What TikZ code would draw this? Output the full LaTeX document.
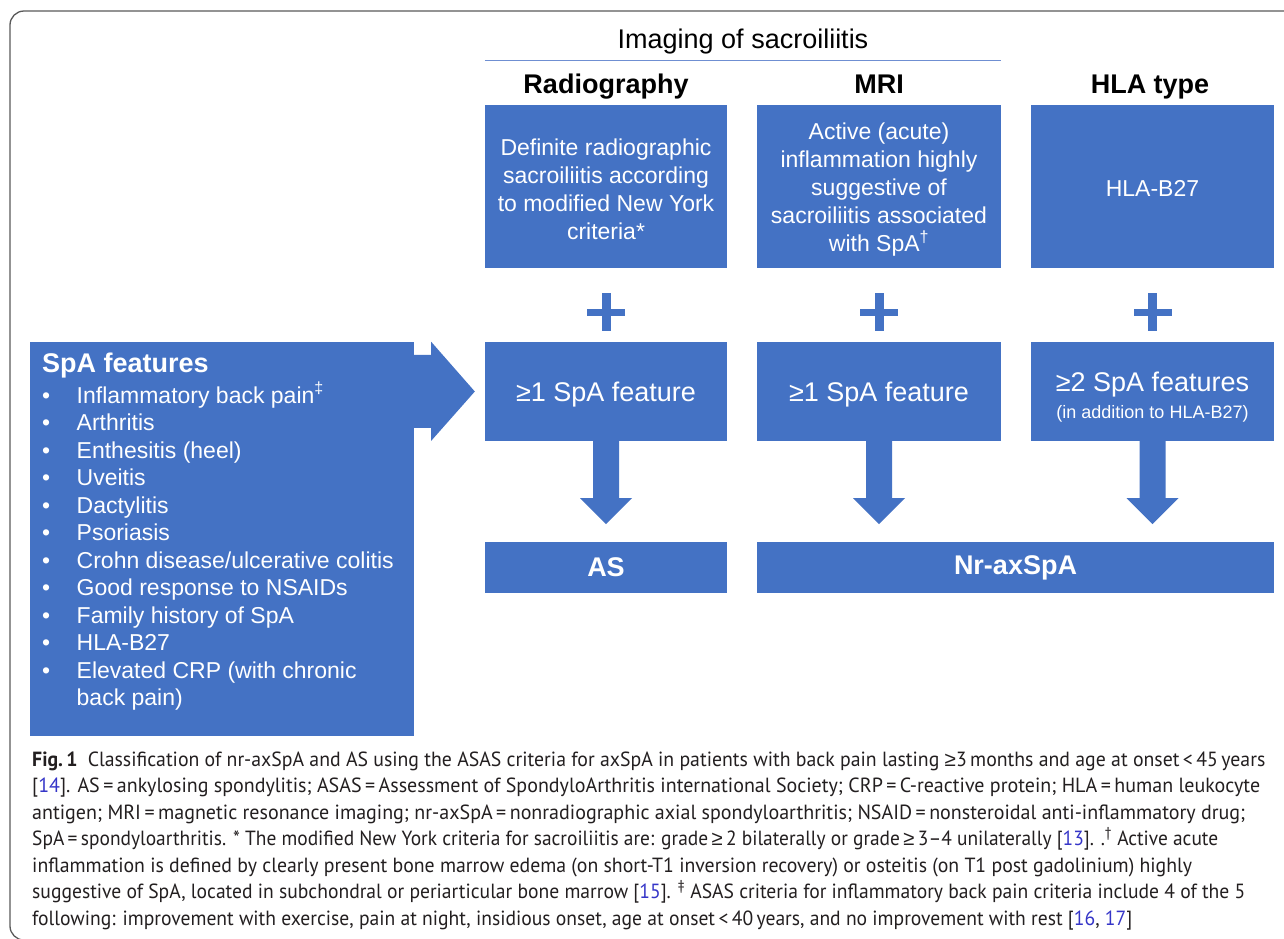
\documentclass[tikz,border=0pt]{standalone}
\usepackage{graphicx}
\usepackage{fontspec}
\setmainfont{Liberation Sans}
\newfontfamily\capfont[FakeStretch=0.96]{PT Sans}
\definecolor{boxblue}{HTML}{4472C4}
\definecolor{linkblue}{HTML}{3535C8}
\definecolor{captext}{HTML}{231F20}
\definecolor{framegray}{HTML}{5A5A5A}
\definecolor{ruleblue}{HTML}{6F8FD2}
\newcommand{\lk}[1]{\textcolor{linkblue}{#1}}
\newcommand{\capge}{{\rmfamily ≥}}
\newcommand{\topstrut}[1]{\rule{0pt}{#1}}
\newcommand{\capfit}[2]{\resizebox{#1}{\height}{#2}}
\begin{document}
\begin{tikzpicture}[x=1pt,y=-1pt,
  box/.style={fill=boxblue, text=white, inner sep=0pt, align=center, font=\fontsize{23}{28}\selectfont},
  bigtxt/.style={font=\fontsize{27}{30}\selectfont},
  boldtxt/.style={font=\fontsize{27}{30}\selectfont\bfseries},
  hdr/.style={inner sep=0pt, text=black, anchor=base},
  item/.style={inner sep=0pt, text=white, anchor=base west, font=\fontsize{23}{27.5}\selectfont},
  capline/.style={inner sep=0pt, anchor=base west, text=captext, font=\capfont\fontsize{20.5}{26.5}\selectfont},
  frame/.style={draw=framegray, line width=1.3pt, rounded corners=14pt}]
\useasboundingbox (0,0) rectangle (1284,938);
\fill[white] (0,0) rectangle (1284,938);
\begin{scope}
  \clip (0,0) rectangle (1284,938);
  \draw[frame] (10,11) rectangle (1320,940);
\end{scope}

% header
\node[hdr, bigtxt] (img) at (743,48) {Imaging of sacroiliitis};
\node[hdr, boldtxt] (hrad) at (606,93.5) {Radiography};
\node[hdr, boldtxt] (hmri) at (879,93.5) {MRI};
\node[hdr, boldtxt] (hhla) at (1150,93.5) {HLA type};

% top boxes
\node[box, minimum width=242pt, minimum height=163pt] (r1) at (606,186.5)
  {\topstrut{23pt}Definite radiographic\\sacroiliitis according\\to modified New York\\criteria*};
\node[box, minimum width=244pt, minimum height=163pt] (mr) at (879,186.5)
  {\topstrut{23pt}Active (acute)\\inflammation highly\\suggestive of\\sacroiliitis associated\\with SpA\textsuperscript{†}};
\node[box, minimum width=243pt, minimum height=163pt] (hl) at (1152.5,186.5)
  {\topstrut{20pt}HLA-B27};
\draw[ruleblue, line width=1.5pt] ([yshift=44.5pt]r1.north west) -- ([yshift=44.5pt]mr.north east);

% middle boxes
\node[box, bigtxt, minimum width=242pt, minimum height=99pt] (m1) at (606,391.5) {\topstrut{26pt}≥1 SpA feature};
\node[box, bigtxt, minimum width=244pt, minimum height=99pt] (m2) at (879,391.5) {\topstrut{26pt}≥1 SpA feature};
\node[box, minimum width=243pt, minimum height=99pt, align=center] (m3) at (1152.5,391.5)
  {{\fontsize{27}{28}\selectfont\topstrut{30pt}≥2 SpA features}\\[-1pt]{\fontsize{18}{20}\selectfont (in addition to HLA-B27)}};

% bottom boxes
\node[box, boldtxt, minimum width=242pt, minimum height=51pt] (b1) at (606,567.5) {AS};
\node[box, boldtxt, minimum width=517pt, minimum height=51pt] (b2) at (1015.5,567.5) {Nr-axSpA};

% plus signs
\foreach \t in {r1,mr,hl}{
  \fill[boxblue] ([xshift=-19pt,yshift=-40.5pt]\t.south) rectangle ([xshift=19pt,yshift=-47.5pt]\t.south);
  \fill[boxblue] ([xshift=-4.5pt,yshift=-25pt]\t.south) rectangle ([xshift=4.5pt,yshift=-63pt]\t.south);
}

% down arrows
\foreach \m in {m1,m2,m3}{
  \fill[boxblue] ([xshift=-13pt,yshift=1pt]\m.south) -- ([xshift=-13pt,yshift=-57pt]\m.south)
    -- ([xshift=-26pt,yshift=-57pt]\m.south) -- ([yshift=-83pt]\m.south)
    -- ([xshift=26pt,yshift=-57pt]\m.south) -- ([xshift=13pt,yshift=-57pt]\m.south)
    -- ([xshift=13pt,yshift=1pt]\m.south) -- cycle;
}

% SpA features box
\node[fill=boxblue, inner sep=0pt, minimum width=384pt, minimum height=394pt] (spa) at (222,539) {};
\fill[boxblue] ([xshift=-1pt,yshift=-13pt]spa.north east) -- ([xshift=17pt,yshift=-13pt]spa.north east)
  -- ([xshift=17pt]spa.north east) -- ([xshift=-10pt]m1.west)
  -- ([xshift=17pt,yshift=-99pt]spa.north east) -- ([xshift=17pt,yshift=-86pt]spa.north east)
  -- ([xshift=-1pt,yshift=-86pt]spa.north east) -- cycle;
\node[inner sep=0pt, anchor=base west, text=white, font=\fontsize{27}{30}\selectfont\bfseries] (spat) at (42,372.5) {SpA features};
\foreach \txt [count=\i from 0] in {Inflammatory back pain\textsuperscript{‡},Arthritis,Enthesitis (heel),Uveitis,Dactylitis,Psoriasis,Crohn disease/ulcerative colitis,Good response to NSAIDs,Family history of SpA,HLA-B27,Elevated CRP (with chronic}{
  \node[item] (bu\i) at (42,403+27.5*\i) {•};
  \node[item] (it\i) at (76.5,403+27.5*\i) {\txt};
}
\node[item] (itlast) at (76.5,705.5) {back pain)};

% caption
\node[capline] (c1) at (32,766) {\capfit{1233pt}{{\bfseries Fig.\,1}\hspace{10pt}Classification of nr-axSpA and AS using the ASAS criteria for axSpA in patients with back pain lasting \capge3\,months and age at onset\,<\,45\,years}};
\node[capline] (c2) at (32,792.5) {\capfit{1228pt}{[\lk{14}]. AS\,=\,ankylosing spondylitis; ASAS\,=\,Assessment of SpondyloArthritis international Society; CRP\,=\,C-reactive protein; HLA\,=\,human leukocyte}};
\node[capline] (c3) at (32,819) {\capfit{1213pt}{antigen; MRI\,=\,magnetic resonance imaging; nr-axSpA\,=\,nonradiographic axial spondyloarthritis; NSAID\,=\,nonsteroidal anti-inflammatory drug;}};
\node[capline] (c4) at (32,845.5) {\capfit{1186pt}{SpA\,=\,spondyloarthritis. * The modified New York criteria for sacroiliitis are: grade\,\capge\,2 bilaterally or grade\,\capge\,3–4 unilaterally [\lk{13}]. .\textsuperscript{†} Active acute}};
\node[capline] (c5) at (32,872) {\capfit{1160pt}{inflammation is defined by clearly present bone marrow edema (on short-T1 inversion recovery) or osteitis (on T1 post gadolinium) highly}};
\node[capline] (c6) at (32,898.5) {\capfit{1213pt}{suggestive of SpA, located in subchondral or periarticular bone marrow [\lk{15}]. \textsuperscript{‡} ASAS criteria for inflammatory back pain criteria include 4 of the 5}};
\node[capline] (c7) at (32,925) {\capfit{1100pt}{following: improvement with exercise, pain at night, insidious onset, age at onset\,<\,40\,years, and no improvement with rest [\lk{16}, \lk{17}]}};
\end{tikzpicture}
\end{document}
